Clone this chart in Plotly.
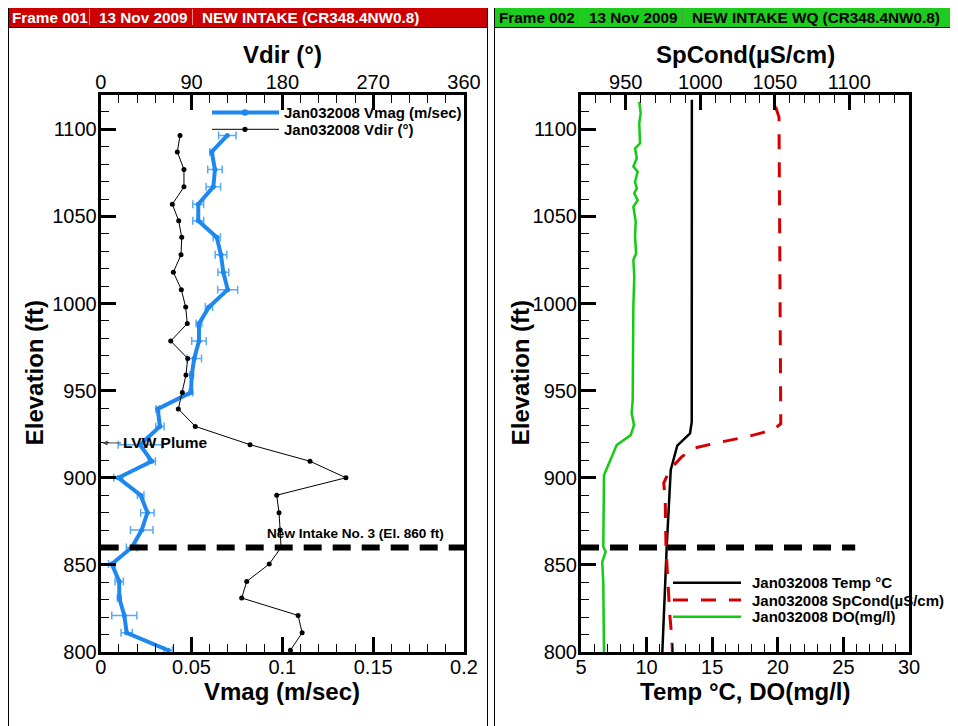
import plotly.graph_objects as go

# page is rendered with the browser's default 8px body margin; positions below are page pixels
OFF = 8
W, H = 950, 718
FONT = "Liberation Sans"

# ---------------- data: left panel (velocity profile) ----------------
elev_v = [1096.5, 1087, 1077, 1067, 1057, 1047.5, 1038, 1028, 1018, 1008,
          998, 988.5, 978.5, 968.5, 959, 949, 939.5, 929.5, 919, 909.5,
          900, 890, 880, 870, 860, 850.5, 840.5, 831, 821, 811, 801]
vmag = [0.0697, 0.0611, 0.0629, 0.0620, 0.0537, 0.0537, 0.0639, 0.0662, 0.0675, 0.0699,
        0.0596, 0.0541, 0.0541, 0.0515, 0.0501, 0.0497, 0.0314, 0.0326, 0.0216, 0.0281,
        0.0097, 0.0220, 0.0257, 0.0226, 0.0171, 0.0061, 0.0102, 0.0102, 0.0130, 0.0143, 0.0372]
vmag_err = [0.0048, 0.001, 0.004, 0.004, 0.003, 0.003, 0.002, 0.0032, 0.003, 0.0055,
            0.002, 0.0016, 0.004, 0.004, 0.001, 0.001, 0.001, 0.0023, 0.012, 0.002,
            0.0025, 0.0018, 0.0037, 0.0062, 0.003, 0.0018, 0.0023, 0.001, 0.0069, 0.0031, 0.0023]
vdir = [78.6, 75.9, 82.5, 82.5, 71.0, 77.3, 80.3, 79.6, 72.0, 79.9,
        84.2, 85.8, 69.4, 86.2, 84.5, 80.9, 76.9, 93.7, 148.0, 207.4,
        243.0, 174.4, 176.7, 177.8, 178.7, 167.0, 144.7, 139.7, 195.6, 199.6, 188.0]

# ---------------- data: right panel (water quality) ----------------
temp_elev = [1117, 1060, 1000, 960, 932, 925.5, 918.5, 904.5, 860, 809, 800]
temp = [13.45, 13.45, 13.45, 13.45, 13.44, 13.31, 12.34, 11.84, 11.53, 11.25, 11.2]

spc_elev = [1113, 1107, 1050, 1000, 944, 931, 927.5, 923.5, 920, 917, 912, 904.5,
            897, 887, 860, 837, 822, 807, 800]
spc = [1050.5, 1052.8, 1053.2, 1053.6, 1054, 1054, 1049, 1031, 1011, 995.5, 987.5, 979.5,
       975.5, 976.5, 977, 978.5, 979.5, 981, 981.3]

do_elev = [1115.8, 1109.2, 1103.4, 1092, 1089.1, 1083.4, 1078.6, 1075.7, 1069.9, 1066.1,
           1063.3, 1059.4, 1055.6, 1047, 1038.4, 1028.8, 1025, 1015.4, 998.2, 980,
           944.6, 937, 930.3, 924.5, 918.8, 901.5, 860.4, 857.5, 851.8, 839.4, 800]
do = [9.44, 9.55, 9.44, 9.5, 9.12, 9.25, 8.99, 9.32, 9.12, 9.25,
      9.06, 9.32, 8.99, 9.17, 9.12, 9.2, 8.99, 9.06, 8.99, 8.99,
      8.94, 8.86, 9.04, 8.79, 7.72, 6.75, 6.7, 6.88, 6.62, 6.7, 6.75]

intake_elev = 860
intake_label = "New Intake No. 3 (El. 860 ft)"
left_intake_x = [0, 0.2]
right_intake_x = [5, 25.9]

vmag_ticks = [0, 0.05, 0.1, 0.15, 0.2]
vmag_ticktext = ["0", "0.05", "0.1", "0.15", "0.2"]
vdir_ticks = [0, 90, 180, 270, 360]
elev_ticks = [800, 850, 900, 950, 1000, 1050, 1100]

headers = [
    ["Frame 001", "13 Nov 2009", "NEW INTAKE (CR348.4NW0.8)"],
    ["Frame 002", "13 Nov 2009", "NEW INTAKE WQ (CR348.4NW0.8)"],
]
left_names = ["Jan032008 Vmag (m/sec)", "Jan032008 Vdir (°)"]
right_names = ["Jan032008 Temp °C", "Jan032008 SpCond(µS/cm)", "Jan032008 DO(mg/l)"]

BLUE = "#1e88f0"
BLUE_ERR = "#5aaaf5"
RED = "#d40000"
GREEN = "#11cc11"
INTAKE_DASH = "18px,11px"
SPC_DASH = "15px,13px"


def px(x):
    return (x - OFF) / W


def py(y):
    return 1 - (y - OFF) / H


fig = go.Figure()

# left panel traces
fig.add_trace(go.Scatter(
    x=vmag, y=elev_v, xaxis="x", yaxis="y", mode="lines+markers",
    name=left_names[0], showlegend=False,
    line=dict(color=BLUE, width=4), marker=dict(color=BLUE, size=5),
    error_x=dict(type="data", array=vmag_err, color=BLUE_ERR, thickness=1.5, width=4),
))
fig.add_trace(go.Scatter(
    x=vdir, y=elev_v, xaxis="x2", yaxis="y", mode="lines+markers",
    name=left_names[1], showlegend=False,
    line=dict(color="black", width=1), marker=dict(color="black", size=5),
))
fig.add_trace(go.Scatter(
    x=left_intake_x, y=[intake_elev, intake_elev], xaxis="x", yaxis="y", mode="lines",
    showlegend=False, hoverinfo="skip",
    line=dict(color="black", width=6, dash=INTAKE_DASH),
))

# right panel traces
fig.add_trace(go.Scatter(
    x=temp, y=temp_elev, xaxis="x3", yaxis="y2", mode="lines",
    name=right_names[0], showlegend=False,
    line=dict(color="black", width=2.5),
))
fig.add_trace(go.Scatter(
    x=spc, y=spc_elev, xaxis="x4", yaxis="y2", mode="lines",
    name=right_names[1], showlegend=False,
    line=dict(color=RED, width=3, dash=SPC_DASH),
))
fig.add_trace(go.Scatter(
    x=do, y=do_elev, xaxis="x3", yaxis="y2", mode="lines",
    name=right_names[2], showlegend=False,
    line=dict(color=GREEN, width=2.5),
))
fig.add_trace(go.Scatter(
    x=right_intake_x, y=[intake_elev, intake_elev], xaxis="x3", yaxis="y2", mode="lines",
    showlegend=False, hoverinfo="skip",
    line=dict(color="black", width=6, dash=INTAKE_DASH),
))

PLOT_TOP, PLOT_BOT = 94.5, 652
L_LEFT, L_RIGHT = 100.7, 464
R_LEFT, R_RIGHT = 581, 909
ydom = [py(PLOT_BOT), py(PLOT_TOP)]
ldom = [px(L_LEFT), px(L_RIGHT)]
rdom = [px(R_LEFT), px(R_RIGHT)]


def ax(**kw):
    d = dict(
        showline=True, linewidth=3, linecolor="black", automargin=False,
        ticks="inside", ticklen=15, tickwidth=3, tickcolor="black",
        tickfont=dict(family=FONT, size=20, color="black"),
        showgrid=False, zeroline=False,
    )
    d.update(kw)
    return d


def minor(dt):
    return dict(ticks="inside", ticklen=8, tickwidth=1.2, tickcolor="black", dtick=dt, showgrid=False)


fig.update_layout(
    width=W, height=H, margin=dict(l=0, r=0, t=0, b=0, autoexpand=False),
    paper_bgcolor="white", plot_bgcolor="white",
    font=dict(family=FONT, color="black"),
    showlegend=False,
    xaxis=ax(domain=ldom, range=[0, 0.2], tickvals=vmag_ticks, ticktext=vmag_ticktext,
             minor=minor(0.01), anchor="y", ticklabelstandoff=-5),
    xaxis2=ax(domain=ldom, range=[0, 360], tickvals=vdir_ticks, minor=minor(18), anchor="y",
              overlaying="x", side="top", ticklabelstandoff=-5),
    yaxis=ax(domain=ydom, range=[800, 1120], tickvals=elev_ticks, minor=minor(10), anchor="x",
             mirror=True, ticklabelstandoff=-3),
    xaxis3=ax(domain=rdom, range=[5, 30], dtick=5, minor=minor(1), anchor="y2", ticklabelstandoff=-5),
    xaxis4=ax(domain=rdom, range=[920, 1140], tick0=950, dtick=50, minor=minor(10), anchor="y2",
              overlaying="x3", side="top", ticklabelstandoff=-5),
    yaxis2=ax(domain=ydom, range=[800, 1120], tickvals=elev_ticks, minor=minor(10), anchor="x3",
              mirror=True, ticklabelstandoff=-3),
)

# frames and header bars
shapes = []
for (x0, x1, col, sep, sepcol) in [(8.5, 487.5, "#cc0000", [89.5, 192.5], "rgba(255,150,150,0.9)"),
                                    (494.5, 960, "#1ecc1e", [577.5, 682.5], "rgba(90,140,90,0.7)")]:
    shapes.append(dict(type="rect", xref="paper", yref="paper", x0=px(x0), x1=px(x1),
                       y0=py(740), y1=py(7.5), line=dict(color="black", width=1), layer="below"))
    shapes.append(dict(type="rect", xref="paper", yref="paper", x0=px(x0), x1=px(x1),
                       y0=py(27.5), y1=py(7.5), line=dict(color="black", width=1),
                       fillcolor=col, layer="below"))
    for s in sep:
        shapes.append(dict(type="line", xref="paper", yref="paper", x0=px(s), x1=px(s),
                           y0=py(25), y1=py(9), line=dict(color=sepcol, width=1)))

annotations = []
hdr_x = [[10, 97, 200], [497, 587, 690]]
hdr_col = ["white", "black"]
for p in range(2):
    for i, t in enumerate(headers[p]):
        annotations.append(dict(text=t, xref="paper", yref="paper", x=px(hdr_x[p][i]), y=py(17),
                                xanchor="left", yanchor="middle", showarrow=False,
                                font=dict(family=FONT, size=15.3, color=hdr_col[p], weight="bold")))

# axis titles
TITLE_FONT = dict(family=FONT, size=24, color="black", weight="bold")
for (t, x, y, ang) in [("Vdir (°)", (L_LEFT + L_RIGHT) / 2, 54, 0),
                       ("Vmag (m/sec)", (L_LEFT + L_RIGHT) / 2, 691, 0),
                       ("Elevation (ft)", 34, (PLOT_TOP + PLOT_BOT) / 2, -90),
                       ("SpCond(µS/cm)", (R_LEFT + R_RIGHT) / 2, 54, 0),
                       ("Temp °C, DO(mg/l)", (R_LEFT + R_RIGHT) / 2, 691, 0),
                       ("Elevation (ft)", 520, (PLOT_TOP + PLOT_BOT) / 2, -90)]:
    annotations.append(dict(text=t, xref="paper", yref="paper", x=px(x), y=py(y),
                            xanchor="center", yanchor="middle", showarrow=False,
                            textangle=ang, font=TITLE_FONT))

# legends (drawn as legend keys in paper space)
LEG_FONT = dict(family=FONT, size=15, color="black", weight="bold")
left_leg = [(112.5, dict(color=BLUE, width=4), BLUE, 3.2), (129.3, dict(color="black", width=1), "black", 2.6)]
for i, (yy, ln, mc, r) in enumerate(left_leg):
    shapes.append(dict(type="line", xref="paper", yref="paper", x0=px(212), x1=px(279),
                       y0=py(yy), y1=py(yy), line=ln))
    shapes.append(dict(type="circle", xref="paper", yref="paper", x0=px(245 - r), x1=px(245 + r),
                       y0=py(yy + r), y1=py(yy - r), fillcolor=mc, line=dict(width=0)))
    annotations.append(dict(text=left_names[i], xref="paper", yref="paper", x=px(282), y=py(yy),
                            xanchor="left", yanchor="middle", showarrow=False, font=LEG_FONT))
right_leg = [(582.7, dict(color="black", width=2.5)),
             (600, dict(color=RED, width=3, dash=SPC_DASH)),
             (616.7, dict(color=GREEN, width=2.5))]
for i, (yy, ln) in enumerate(right_leg):
    shapes.append(dict(type="line", xref="paper", yref="paper", x0=px(673), x1=px(741),
                       y0=py(yy), y1=py(yy), line=ln))
    annotations.append(dict(text=right_names[i], xref="paper", yref="paper", x=px(750), y=py(yy),
                            xanchor="left", yanchor="middle", showarrow=False, font=LEG_FONT))

annotations.append(dict(text="LVW Plume", xref="x", yref="y", x=0.001, y=920, ax=62, ay=0,
                        showarrow=True, arrowhead=2, arrowsize=1, arrowwidth=1, arrowcolor="#444",
                        font=dict(family=FONT, size=15.5, color="black", weight="bold")))
annotations.append(dict(text=intake_label, xref="x", yref="y", x=0.19, y=868,
                        xanchor="right", yanchor="middle", showarrow=False,
                        font=dict(family=FONT, size=13.6, color="black", weight="bold")))
annotations.append(dict(text=intake_label, xref="x3", yref="y2", x=31.4, y=868,
                        xanchor="right", yanchor="middle", showarrow=False,
                        font=dict(family=FONT, size=13.6, color="black", weight="bold")))
fig.update_layout(shapes=shapes, annotations=annotations)

fig.write_html("out.html")
